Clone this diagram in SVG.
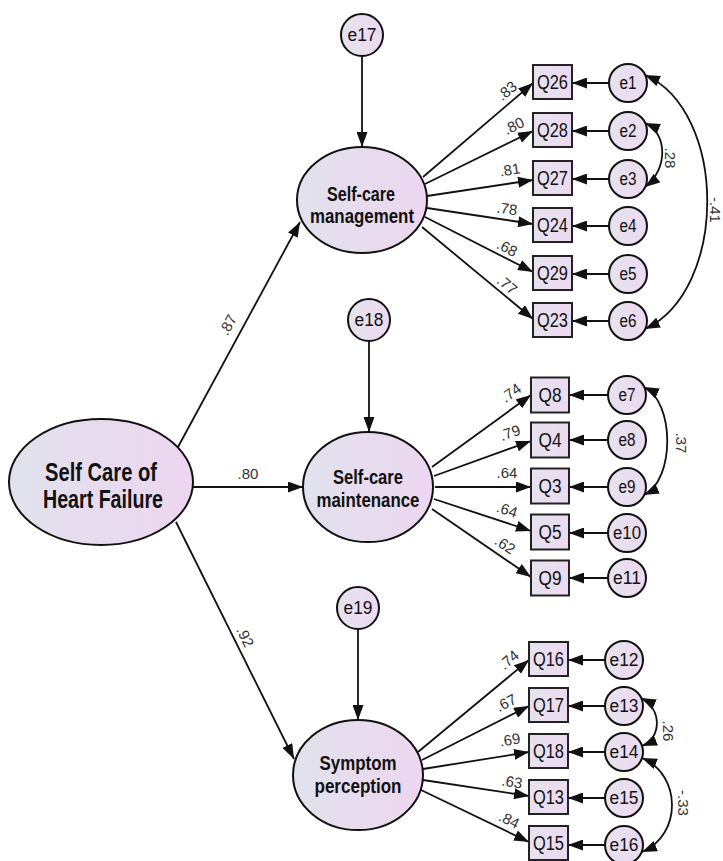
<svg xmlns="http://www.w3.org/2000/svg" width="723" height="861" viewBox="0 0 723 861">
<defs>
<linearGradient id="g" x1="0" y1="0" x2="1" y2="0"><stop offset="0" stop-color="#e1e2ed"/><stop offset="1" stop-color="#edd6f0"/></linearGradient>
<linearGradient id="gq" x1="0" y1="0" x2="1" y2="0"><stop offset="0" stop-color="#e6e2ef"/><stop offset="1" stop-color="#ecdaf0"/></linearGradient>
<marker id="ah" viewBox="0 0 15 11" refX="15" refY="5.5" markerWidth="15" markerHeight="11" markerUnits="userSpaceOnUse" orient="auto-start-reverse"><path d="M0,0L15,5.5L0,11z" fill="#111"/></marker>
<style>
.lat{fill:url(#g);stroke:#111;stroke-width:2}
.obs{fill:url(#gq);stroke:#222;stroke-width:2}
.err{fill:url(#gq);stroke:#111;stroke-width:2}
text{font-family:"Liberation Sans",Arial,sans-serif;fill:#111;text-anchor:middle}
.lt{font-weight:bold;font-size:21px}
.bt{font-weight:bold;font-size:25px}
.ot{font-size:20px}
.et{font-size:18px}
.lab{font-size:15px;fill:#333}
.c{stroke:#111;stroke-width:1.8;fill:none;marker-end:url(#ah)}
.cc{stroke:#111;stroke-width:1.8;fill:none;marker-start:url(#ah);marker-end:url(#ah)}
</style>
</defs>

<g id="connectors">
<line class="c" x1="178" y1="447" x2="300" y2="222"/>
<line class="c" x1="193" y1="487" x2="303" y2="487"/>
<line class="c" x1="176" y1="522" x2="294" y2="759"/>
<line class="c" x1="362" y1="56" x2="362" y2="147"/>
<line class="c" x1="369" y1="341" x2="369" y2="432"/>
<line class="c" x1="358" y1="629" x2="358" y2="720"/>
<line class="c" x1="423" y1="177" x2="533" y2="83"/>
<line class="c" x1="425" y1="184" x2="533" y2="131"/>
<line class="c" x1="427" y1="196" x2="533" y2="180"/>
<line class="c" x1="427" y1="208" x2="533" y2="224"/>
<line class="c" x1="425" y1="217" x2="533" y2="272"/>
<line class="c" x1="422" y1="227" x2="533" y2="319"/>
<line class="c" x1="432" y1="467" x2="531" y2="395"/>
<line class="c" x1="434" y1="476" x2="531" y2="441"/>
<line class="c" x1="435" y1="487" x2="531" y2="487"/>
<line class="c" x1="434" y1="499" x2="531" y2="531"/>
<line class="c" x1="432" y1="509" x2="531" y2="577"/>
<line class="c" x1="418" y1="752" x2="529" y2="660"/>
<line class="c" x1="422" y1="760" x2="529" y2="706"/>
<line class="c" x1="423" y1="769" x2="529" y2="752"/>
<line class="c" x1="423" y1="780" x2="529" y2="796"/>
<line class="c" x1="421" y1="790" x2="529" y2="842"/>
<line class="c" x1="609" y1="83" x2="572" y2="83"/>
<line class="c" x1="609" y1="131" x2="572" y2="131"/>
<line class="c" x1="609" y1="179" x2="572" y2="179"/>
<line class="c" x1="609" y1="226" x2="572" y2="226"/>
<line class="c" x1="609" y1="274" x2="572" y2="274"/>
<line class="c" x1="609" y1="321" x2="572" y2="321"/>
<line class="c" x1="608" y1="395" x2="569" y2="395"/>
<line class="c" x1="608" y1="440" x2="569" y2="440"/>
<line class="c" x1="608" y1="487" x2="569" y2="487"/>
<line class="c" x1="608" y1="533" x2="569" y2="533"/>
<line class="c" x1="608" y1="578" x2="569" y2="578"/>
<line class="c" x1="605" y1="660" x2="568" y2="660"/>
<line class="c" x1="605" y1="706" x2="568" y2="706"/>
<line class="c" x1="605" y1="752" x2="568" y2="752"/>
<line class="c" x1="605" y1="798" x2="568" y2="798"/>
<line class="c" x1="605" y1="845" x2="568" y2="845"/>
<path class="cc" d="M645,75 C728,112 728,290 645,329"/>
<path class="cc" d="M645,123 C668,133 668,170 645,187"/>
<path class="cc" d="M644,387 C675,402 675,480 644,495"/>
<path class="cc" d="M641,698 C662,708 662,738 642,746"/>
<path class="cc" d="M642,758 C682,775 682,835 642,852"/>
<text class="lab" transform="translate(228,325) rotate(-62)" y="5">.87</text>
<text class="lab" x="248" y="479">.80</text>
<text class="lab" transform="translate(245,637) rotate(64)" y="5">.92</text>
<text class="lab" transform="translate(507,91) rotate(-40)" y="5">.83</text>
<text class="lab" transform="translate(514,126) rotate(-26)" y="5">.80</text>
<text class="lab" transform="translate(510,170) rotate(-9)" y="5">.81</text>
<text class="lab" transform="translate(507,209) rotate(8)" y="5">.78</text>
<text class="lab" transform="translate(507,248) rotate(27)" y="5">.68</text>
<text class="lab" transform="translate(507,285) rotate(40)" y="5">.77</text>
<text class="lab" transform="translate(511,393) rotate(-36)" y="5">.74</text>
<text class="lab" transform="translate(510,433) rotate(-20)" y="5">.79</text>
<text class="lab" transform="translate(507,473) rotate(0)" y="5">.64</text>
<text class="lab" transform="translate(507,510) rotate(18)" y="5">.64</text>
<text class="lab" transform="translate(505,545) rotate(34)" y="5">.62</text>
<text class="lab" transform="translate(509,660) rotate(-40)" y="5">.74</text>
<text class="lab" transform="translate(506,703) rotate(-27)" y="5">.67</text>
<text class="lab" transform="translate(510,740) rotate(-9)" y="5">.69</text>
<text class="lab" transform="translate(512,782) rotate(9)" y="5">.63</text>
<text class="lab" transform="translate(509,820) rotate(26)" y="5">.84</text>
<text class="lab" transform="translate(715,210) rotate(90)" y="5">-.41</text>
<text class="lab" transform="translate(670,158) rotate(90)" y="5">.28</text>
<text class="lab" transform="translate(681,443) rotate(90)" y="5">.37</text>
<text class="lab" transform="translate(668,731) rotate(90)" y="5">.26</text>
<text class="lab" transform="translate(683,803) rotate(90)" y="5">-.33</text>
</g>

<g id="SCHF"><ellipse class="lat" cx="101" cy="482" rx="92" ry="63"/>
<text class="bt" x="101" y="481" textLength="112" lengthAdjust="spacingAndGlyphs">Self Care of</text>
<text class="bt" x="103" y="508" textLength="120" lengthAdjust="spacingAndGlyphs">Heart Failure</text></g>

<g id="SCM"><ellipse class="lat" cx="362" cy="200" rx="65" ry="53"/>
<text class="lt" x="361" y="201" textLength="68" lengthAdjust="spacingAndGlyphs">Self-care</text>
<text class="lt" x="362" y="223" textLength="104" lengthAdjust="spacingAndGlyphs">management</text></g>

<g id="SCMa"><ellipse class="lat" cx="368" cy="487" rx="65" ry="55"/>
<text class="lt" x="368" y="484" textLength="70" lengthAdjust="spacingAndGlyphs">Self-care</text>
<text class="lt" x="368" y="507" textLength="103" lengthAdjust="spacingAndGlyphs">maintenance</text></g>

<g id="SP"><ellipse class="lat" cx="358" cy="775" rx="65" ry="55"/>
<text class="lt" x="358" y="770" textLength="77" lengthAdjust="spacingAndGlyphs">Symptom</text>
<text class="lt" x="358" y="793" textLength="87" lengthAdjust="spacingAndGlyphs">perception</text></g>

<g id="e17"><circle class="err" cx="362" cy="35" r="21"/><text class="et" x="362" y="41" textLength="29" lengthAdjust="spacingAndGlyphs">e17</text></g>
<g id="e18"><circle class="err" cx="369" cy="320" r="21"/><text class="et" x="369" y="326" textLength="29" lengthAdjust="spacingAndGlyphs">e18</text></g>
<g id="e19"><circle class="err" cx="358" cy="608" r="21"/><text class="et" x="358" y="614" textLength="29" lengthAdjust="spacingAndGlyphs">e19</text></g>

<g id="Q26"><rect class="obs" x="533" y="65" width="39" height="34"/><text class="ot" x="552.5" y="89" textLength="31" lengthAdjust="spacingAndGlyphs">Q26</text></g>
<g id="Q28"><rect class="obs" x="533" y="113" width="39" height="34"/><text class="ot" x="552.5" y="137" textLength="31" lengthAdjust="spacingAndGlyphs">Q28</text></g>
<g id="Q27"><rect class="obs" x="533" y="161" width="39" height="34"/><text class="ot" x="552.5" y="185" textLength="31" lengthAdjust="spacingAndGlyphs">Q27</text></g>
<g id="Q24"><rect class="obs" x="533" y="208" width="39" height="34"/><text class="ot" x="552.5" y="232" textLength="31" lengthAdjust="spacingAndGlyphs">Q24</text></g>
<g id="Q29"><rect class="obs" x="533" y="256" width="39" height="34"/><text class="ot" x="552.5" y="280" textLength="31" lengthAdjust="spacingAndGlyphs">Q29</text></g>
<g id="Q23"><rect class="obs" x="533" y="303" width="39" height="34"/><text class="ot" x="552.5" y="327" textLength="31" lengthAdjust="spacingAndGlyphs">Q23</text></g>

<g id="Q8"><rect class="obs" x="531" y="377.5" width="38" height="35"/><text class="ot" x="550" y="402" textLength="23" lengthAdjust="spacingAndGlyphs">Q8</text></g>
<g id="Q4"><rect class="obs" x="531" y="422.5" width="38" height="35"/><text class="ot" x="550" y="447" textLength="23" lengthAdjust="spacingAndGlyphs">Q4</text></g>
<g id="Q3"><rect class="obs" x="531" y="468.5" width="38" height="35"/><text class="ot" x="550" y="493" textLength="23" lengthAdjust="spacingAndGlyphs">Q3</text></g>
<g id="Q5"><rect class="obs" x="531" y="514.5" width="38" height="35"/><text class="ot" x="550" y="539" textLength="23" lengthAdjust="spacingAndGlyphs">Q5</text></g>
<g id="Q9"><rect class="obs" x="531" y="560.5" width="38" height="35"/><text class="ot" x="550" y="585" textLength="23" lengthAdjust="spacingAndGlyphs">Q9</text></g>

<g id="Q16"><rect class="obs" x="529" y="642" width="39" height="34"/><text class="ot" x="548.5" y="666" textLength="31" lengthAdjust="spacingAndGlyphs">Q16</text></g>
<g id="Q17"><rect class="obs" x="529" y="688" width="39" height="34"/><text class="ot" x="548.5" y="712" textLength="31" lengthAdjust="spacingAndGlyphs">Q17</text></g>
<g id="Q18"><rect class="obs" x="529" y="734" width="39" height="34"/><text class="ot" x="548.5" y="758" textLength="31" lengthAdjust="spacingAndGlyphs">Q18</text></g>
<g id="Q13"><rect class="obs" x="529" y="780" width="39" height="34"/><text class="ot" x="548.5" y="804" textLength="31" lengthAdjust="spacingAndGlyphs">Q13</text></g>
<g id="Q15"><rect class="obs" x="529" y="826" width="39" height="34"/><text class="ot" x="548.5" y="850" textLength="31" lengthAdjust="spacingAndGlyphs">Q15</text></g>

<g id="e1"><circle class="err" cx="628" cy="83" r="19"/><text class="et" x="628" y="89" textLength="17" lengthAdjust="spacingAndGlyphs">e1</text></g>
<g id="e2"><circle class="err" cx="628" cy="131" r="19"/><text class="et" x="628" y="137" textLength="17" lengthAdjust="spacingAndGlyphs">e2</text></g>
<g id="e3"><circle class="err" cx="628" cy="179" r="19"/><text class="et" x="628" y="185" textLength="17" lengthAdjust="spacingAndGlyphs">e3</text></g>
<g id="e4"><circle class="err" cx="628" cy="226" r="19"/><text class="et" x="628" y="232" textLength="17" lengthAdjust="spacingAndGlyphs">e4</text></g>
<g id="e5"><circle class="err" cx="628" cy="274" r="19"/><text class="et" x="628" y="280" textLength="17" lengthAdjust="spacingAndGlyphs">e5</text></g>
<g id="e6"><circle class="err" cx="628" cy="321" r="19"/><text class="et" x="628" y="327" textLength="17" lengthAdjust="spacingAndGlyphs">e6</text></g>

<g id="e7"><circle class="err" cx="627" cy="395" r="19"/><text class="et" x="627" y="401" textLength="17" lengthAdjust="spacingAndGlyphs">e7</text></g>
<g id="e8"><circle class="err" cx="627" cy="440" r="19"/><text class="et" x="627" y="446" textLength="17" lengthAdjust="spacingAndGlyphs">e8</text></g>
<g id="e9"><circle class="err" cx="627" cy="487" r="19"/><text class="et" x="627" y="493" textLength="17" lengthAdjust="spacingAndGlyphs">e9</text></g>
<g id="e10"><circle class="err" cx="627" cy="533" r="19"/><text class="et" x="627" y="539" textLength="28" lengthAdjust="spacingAndGlyphs">e10</text></g>
<g id="e11"><circle class="err" cx="627" cy="578" r="19"/><text class="et" x="627" y="584" textLength="28" lengthAdjust="spacingAndGlyphs">e11</text></g>

<g id="e12"><circle class="err" cx="624" cy="660" r="19"/><text class="et" x="624" y="666" textLength="29" lengthAdjust="spacingAndGlyphs">e12</text></g>
<g id="e13"><circle class="err" cx="624" cy="706" r="19"/><text class="et" x="624" y="712" textLength="29" lengthAdjust="spacingAndGlyphs">e13</text></g>
<g id="e14"><circle class="err" cx="624" cy="752" r="19"/><text class="et" x="624" y="758" textLength="29" lengthAdjust="spacingAndGlyphs">e14</text></g>
<g id="e15"><circle class="err" cx="624" cy="798" r="19"/><text class="et" x="624" y="804" textLength="29" lengthAdjust="spacingAndGlyphs">e15</text></g>
<g id="e16"><circle class="err" cx="624" cy="845" r="19"/><text class="et" x="624" y="851" textLength="29" lengthAdjust="spacingAndGlyphs">e16</text></g>
</svg>
